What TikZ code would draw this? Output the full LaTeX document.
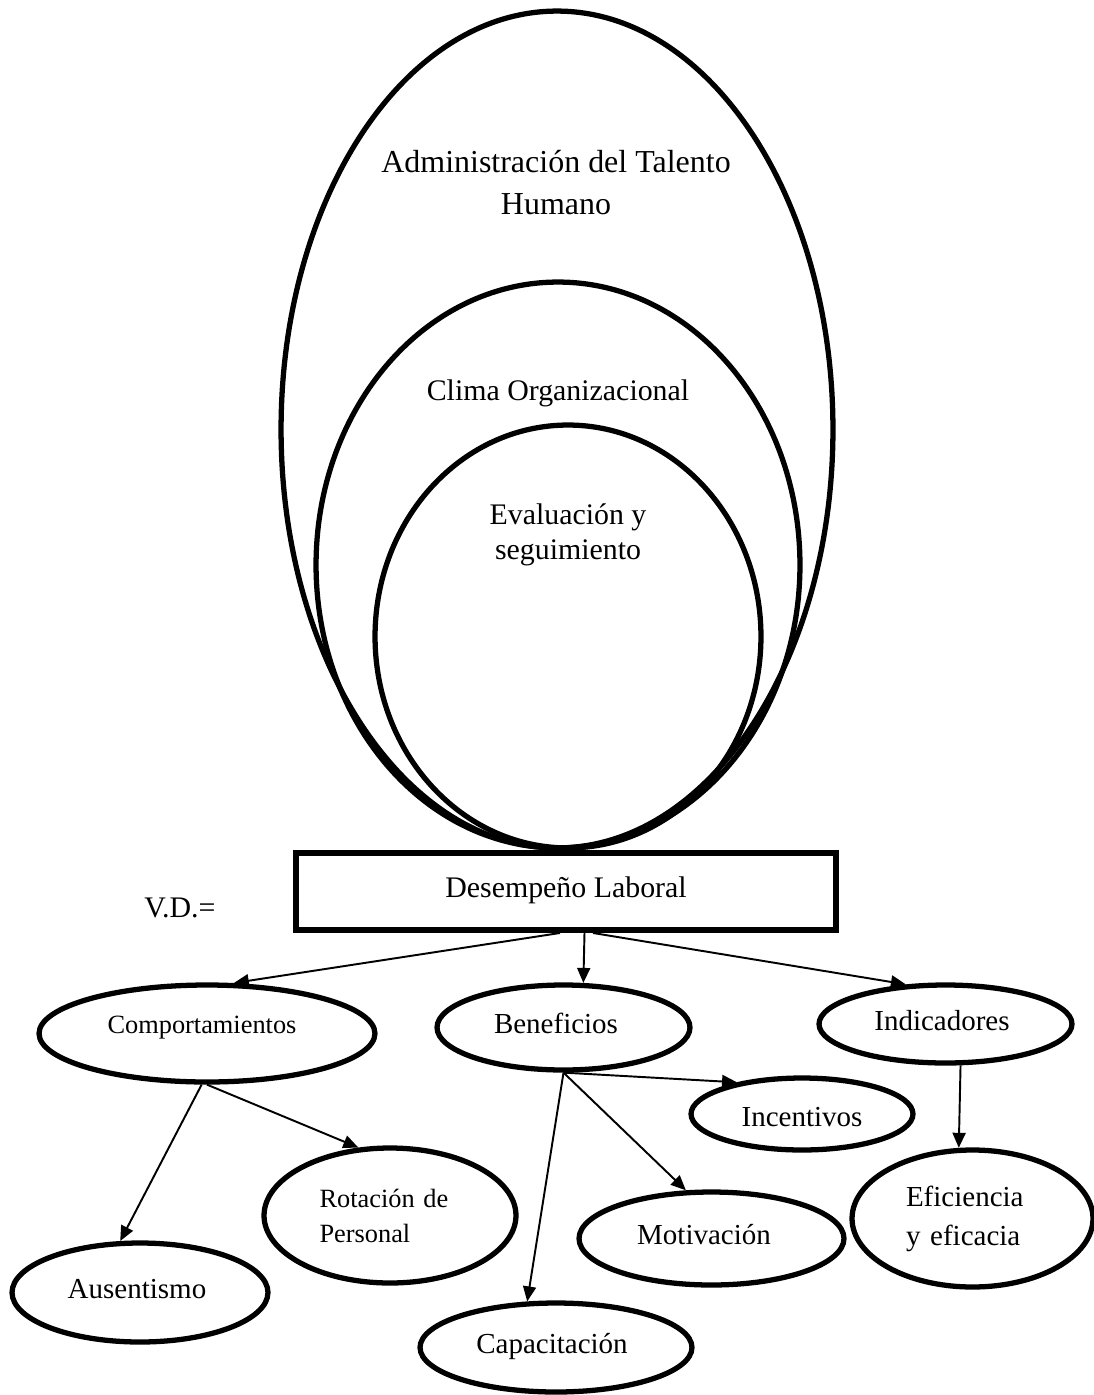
\documentclass[tikz,border=0pt]{standalone}
\usepackage{fontspec}
\setmainfont{Liberation Serif}
\usetikzlibrary{shapes.geometric, arrows.meta}

\begin{document}
\begin{tikzpicture}[x=0.02cm, y=-0.02cm,
    big/.style={ellipse, draw=black, line width=3pt, inner sep=0pt},
    bubble/.style={ellipse, draw=black, line width=3pt, inner sep=0pt,
                   font=\fontsize{16.5}{22.2}\selectfont},
    lbl/.style={text height=0.38cm, text depth=0.14cm},
    nudge/.style={execute at begin node={\hspace*{#1}}},
    title/.style={font=\fontsize{17}{19.9}\selectfont},
    arrow/.style={line width=1.1pt, -{Triangle[length=0.3cm, width=0.26cm]}}]
\useasboundingbox (0,0) rectangle (1094,1395);

% Nested ellipses
\node (talento) [big, minimum width=11.04cm, minimum height=16.74cm] at (557,429.5) {};
\node (clima)   [big, minimum width=9.68cm,  minimum height=11.32cm] at (558,565) {};
\node (eval)    [big, minimum width=7.72cm,  minimum height=8.46cm]  at (568,636.5) {};

\node (talentotxt) [align=center, font=\fontsize{18.2}{23.9}\selectfont] at (556,183)
    {Administración del Talento\\Humano};
\node (climatxt) [title, anchor=base] at (558,400) {Clima Organizacional};
\node (evaltxt)  [title, align=center] at (568,535) {Evaluación y\\seguimiento};

% Dependent variable
\node (des) [rectangle, draw=black, line width=3.4pt, minimum width=10.8cm, minimum height=1.54cm,
             title, lbl] at (566,891.5) {Desempeño Laboral};
\node (vd) [title, anchor=base] at (180,917) {V.D.=};

% Dimensions
\node (comp) [bubble, nudge=-0.2cm, minimum width=6.72cm, minimum height=1.94cm,
              font=\fontsize{15}{19.9}\selectfont, text height=0.3cm, text depth=0.3cm]
    at (207,1033.5) {Comportamientos};
\node (ben)  [bubble, lbl, nudge=-0.3cm, minimum width=5.06cm, minimum height=1.70cm] at (563.5,1027.5) {Beneficios};
\node (ind)  [bubble, lbl, nudge=-0.14cm, minimum width=5.06cm, minimum height=1.56cm] at (945.5,1024) {Indicadores};

% Indicators
\node (inc) [bubble, minimum width=4.44cm, minimum height=1.44cm,
             text height=0.48cm, text depth=0cm] at (802,1114) {Incentivos};
\node (rot) [bubble, align=left, text width=2.82cm, minimum width=5.04cm, minimum height=2.70cm,
             font=\fontsize{15}{19.9}\selectfont] at (390,1215.5) {Rotación de\\Personal};
\node (aus) [bubble, lbl, nudge=-0.12cm, minimum width=5.12cm, minimum height=1.98cm] at (140,1292.5) {Ausentismo};
\node (mot) [bubble, lbl, nudge=-0.3cm, minimum width=5.30cm, minimum height=1.86cm] at (711.5,1238.5) {Motivación};
\node (efi) [bubble, align=left, text width=2.66cm, minimum width=4.82cm, minimum height=2.74cm]
    at (972.5,1218.5) {Eficiencia\\y eficacia};
\node (cap) [bubble, lbl, nudge=-0.16cm, minimum width=5.44cm, minimum height=1.78cm] at (556,1347.5) {Capacitación};

% Arrows -- variable to dimensions
\draw [arrow] ([xshift=-0.12cm]des.south) -- (comp.62);
\draw [arrow] ([xshift=0.37cm]des.south)  -- (ben.66);
\draw [arrow] ([xshift=0.54cm]des.south)  -- (ind.135);
% Dimensions to indicators
\draw [arrow] (comp.264) -- (aus.111);
\draw [arrow] (comp.south) -- (rot.115);
\draw [arrow] (ben.south) -- (cap.122);
\draw [arrow] (ben.south) -- (mot.118);
\draw [arrow] (ben.south) -- (inc.154);
\draw [arrow] (ind.290) -- (efi.101);
\end{tikzpicture}
\end{document}
